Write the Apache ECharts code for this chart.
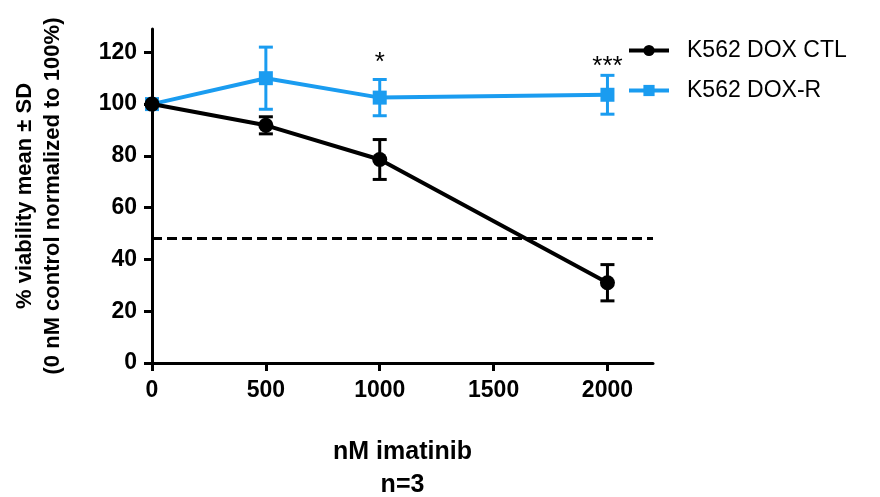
<!DOCTYPE html>
<html>
<head>
<meta charset="utf-8">
<script src="https://cdn.jsdelivr.net/npm/echarts@6/dist/echarts.min.js"></script>
<style>
  html, body { margin: 0; padding: 0; background: #fff; }
  #chart { width: 880px; height: 497px; }
</style>
</head>
<body>
<div id="chart"></div>
<script>
// Imatinib doses (nM)
const doses = [0, 500, 1000, 2000];
// K562 DOX CTL viability, mean and SD (%)
const ctlMean = [100, 91.8, 78.6, 31];
const ctlSD = [0, 3.3, 7.7, 7];
// K562 DOX-R viability, mean and SD (%)
const drMean = [100, 110, 102.5, 103.6];
const drSD = [0, 12, 7, 7.5];
// Significance marks, placed above the DOX-R error bars
const sigDoses = [1000, 2000];
const sigY = [118, 116.5];
const sigLabels = ['*', '***'];
// Reference level (dashed)
const halfLevel = 48;
// Axis ticks
const yTicks = [0, 20, 40, 60, 80, 100, 120];
const xTicks = [0, 500, 1000, 1500, 2000];

const BLUE = '#1a9cf0';
const FONT = 'Arial, "Liberation Sans", sans-serif';

function errorBars(means, sds, color) {
  return {
    type: 'custom',
    silent: true,
    z: 3,
    data: doses.map((d, i) => [d, means[i], sds[i]]),
    renderItem: function (params, api) {
      const x = api.value(0), m = api.value(1), s = api.value(2);
      if (!s) return null;
      const top = api.coord([x, m + s]);
      const bot = api.coord([x, m - s]);
      const cap = 7;
      const style = { stroke: color, lineWidth: 3 };
      return {
        type: 'group',
        children: [
          { type: 'line', shape: { x1: top[0], y1: top[1], x2: bot[0], y2: bot[1] }, style },
          { type: 'line', shape: { x1: top[0] - cap, y1: top[1], x2: top[0] + cap, y2: top[1] }, style },
          { type: 'line', shape: { x1: bot[0] - cap, y1: bot[1], x2: bot[0] + cap, y2: bot[1] }, style }
        ]
      };
    }
  };
}

const chart = echarts.init(document.getElementById('chart'), null, { renderer: 'canvas' });

chart.setOption({
  animation: false,
  textStyle: { fontFamily: FONT },
  grid: { left: 152, right: 227, top: 29, bottom: 134, outerBoundsMode: 'none', containLabel: false },
  legend: {
    orient: 'vertical',
    left: 627,
    top: 39,
    padding: 0,
    itemWidth: 40,
    itemHeight: 14,
    itemGap: 17,
    lineStyle: { width: 4 },
    textStyle: { fontSize: 23, color: '#000', fontFamily: FONT, padding: [0, 0, 0, 13] },
    data: ['K562 DOX CTL', 'K562 DOX-R']
  },
  xAxis: {
    type: 'value',
    min: 0,
    max: 2200,
    interval: 500,
    splitLine: { show: false },
    axisLine: { lineStyle: { color: '#000', width: 3 } },
    axisTick: { length: 8, lineStyle: { color: '#000', width: 3 }, customValues: xTicks },
    axisLabel: {
      customValues: xTicks,
      formatter: (v) => String(v),
      color: '#000', fontSize: 23, fontWeight: 'bold', margin: 16, fontFamily: FONT
    },
    name: 'nM imatinib\nn=3',
    nameLocation: 'middle',
    nameGap: 73,
    nameTextStyle: { fontSize: 25, fontWeight: 'bold', color: '#000', lineHeight: 33, fontFamily: FONT }
  },
  yAxis: {
    type: 'value',
    min: 0,
    max: 129,
    interval: 20,
    splitLine: { show: false },
    axisLine: { lineStyle: { color: '#000', width: 3 } },
    axisTick: { length: 8, lineStyle: { color: '#000', width: 3 }, customValues: yTicks },
    axisLabel: {
      customValues: yTicks,
      color: '#000', fontSize: 23, fontWeight: 'bold', margin: 15, fontFamily: FONT
    },
    name: '% viability mean ± SD\n(0 nM control normalized to 100%)',
    nameLocation: 'middle',
    nameGap: 85,
    nameTextStyle: { fontSize: 22, fontWeight: 'bold', color: '#000', lineHeight: 28, fontFamily: FONT }
  },
  series: [
    {
      name: 'K562 DOX-R',
      type: 'line',
      z: 4,
      data: doses.map((d, i) => [d, drMean[i]]),
      symbol: 'rect',
      symbolSize: 14,
      color: BLUE,
      lineStyle: { color: BLUE, width: 4 },
      itemStyle: { color: BLUE },
      markLine: {
        silent: true,
        symbol: ['none', 'none'],
        label: { show: false },
        lineStyle: { color: '#000', width: 3, type: [10, 5] },
        data: [{ yAxis: halfLevel }]
      }
    },
    errorBars(drMean, drSD, BLUE),
    errorBars(ctlMean, ctlSD, '#000'),
    {
      name: 'K562 DOX CTL',
      type: 'line',
      z: 5,
      data: doses.map((d, i) => [d, ctlMean[i]]),
      symbol: 'circle',
      symbolSize: 15,
      color: '#000',
      lineStyle: { color: '#000', width: 4 },
      itemStyle: { color: '#000' }
    },
    {
      type: 'custom',
      silent: true,
      z: 6,
      data: sigDoses.map((d, i) => [d, sigY[i]]),
      renderItem: function (params, api) {
        const p = api.coord([api.value(0), api.value(1)]);
        return {
          type: 'text',
          x: p[0],
          y: p[1] + 5,
          style: {
            text: sigLabels[params.dataIndex],
            fill: '#000',
            font: '26px ' + FONT,
            align: 'center',
            verticalAlign: 'middle'
          }
        };
      }
    }
  ]
});
</script>
</body>
</html>
